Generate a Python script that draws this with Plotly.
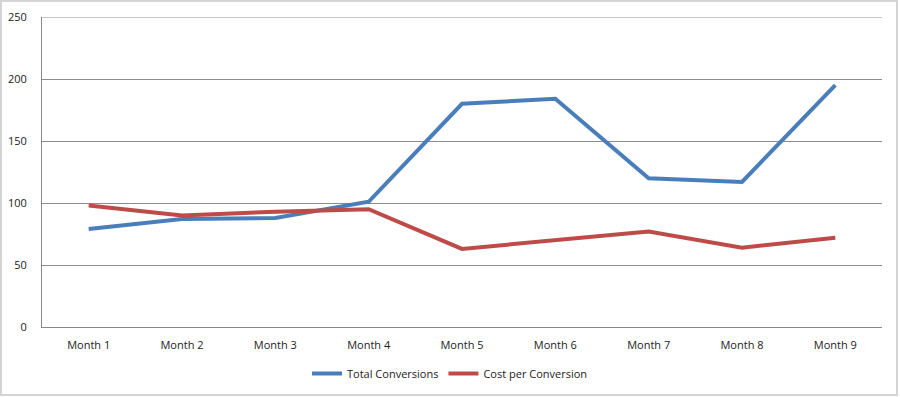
import plotly.graph_objects as go

months = ["Month 1", "Month 2", "Month 3", "Month 4", "Month 5", "Month 6", "Month 7", "Month 8", "Month 9"]
total_conversions = [79, 87, 88, 101, 180, 184, 120, 117, 195]
cost_per_conversion = [98, 90, 93, 95, 63, 70, 77, 64, 72]
y_max = 250

L, R, T, B = 42, 18, 17, 70
W, H = 900, 397
pw, ph = W - L - R, H - T - B

fig = go.Figure()
fig.add_trace(go.Scatter(x=months, y=total_conversions, mode="lines", name="Total Conversions",
                         line=dict(color="#4a7ebb", width=4)))
fig.add_trace(go.Scatter(x=months, y=cost_per_conversion, mode="lines", name="Cost per Conversion",
                         line=dict(color="#be4b48", width=4)))

fig.update_layout(
    width=W, height=H,
    margin=dict(l=L, r=R, t=T, b=B, autoexpand=False),
    paper_bgcolor="white", plot_bgcolor="white",
    font=dict(family="Open Sans, Liberation Sans, sans-serif", size=11, color="#222"),
    showlegend=True,
    legend=dict(orientation="h", x=0.5, xanchor="center", xref="container",
                y=1 - 359 / H, yanchor="top", yref="container",
                font=dict(size=11), itemwidth=30, tracegroupgap=0),
    xaxis=dict(showgrid=False, showline=True, linecolor="#888", linewidth=1,
               range=[-0.5, len(months) - 0.5], automargin=False,
               ticks="", ticklabelstandoff=8, fixedrange=True),
    yaxis=dict(range=[0, y_max], dtick=50, showgrid=True, gridcolor="#8c8c8c", gridwidth=1,
               showline=True, linecolor="#888", linewidth=1, zeroline=False, automargin=False,
               ticks="", ticklabelstandoff=12, fixedrange=True),
    shapes=[
        dict(type="line", xref="paper", yref="y", x0=0, x1=1, y0=y_max, y1=y_max,
             line=dict(color="#8c8c8c", width=1), layer="below"),
        dict(type="rect", xref="paper", yref="paper",
             x0=(1 - L) / pw, x1=(897 - L) / pw,
             y0=(T + ph - 395) / ph, y1=(T + ph - 1) / ph,
             line=dict(color="#d4d4d4", width=2), fillcolor="rgba(0,0,0,0)", layer="below"),
    ],
)

fig.write_html("out.html", config={"displayModeBar": False},
               post_script="document.body.style.margin='0';document.body.style.overflow='hidden';")
